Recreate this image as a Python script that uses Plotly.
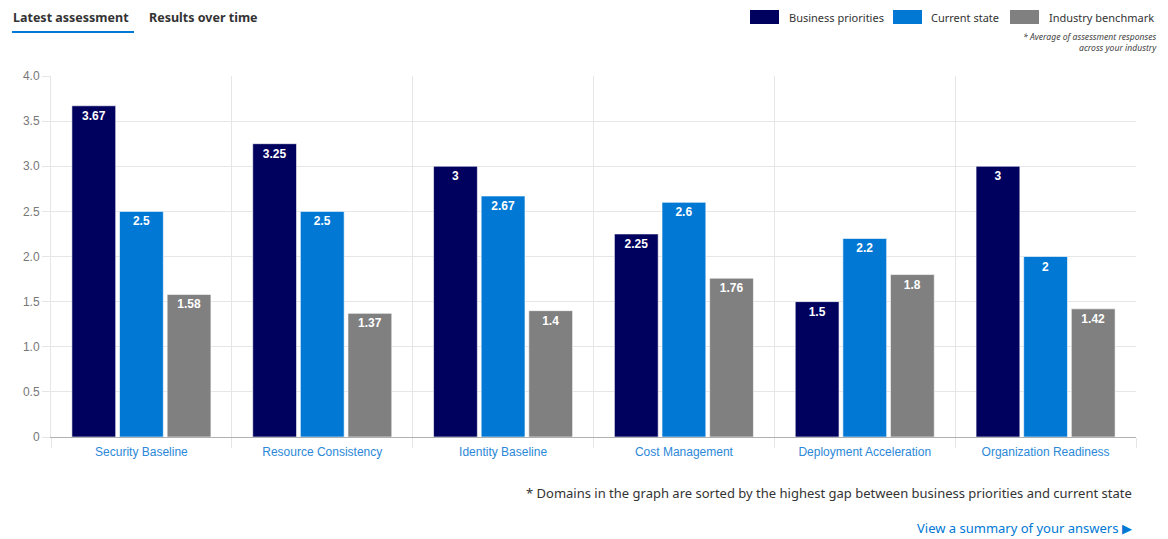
import plotly.graph_objects as go

categories = ["Security Baseline", "Resource Consistency", "Identity Baseline",
              "Cost Management", "Deployment Acceleration", "Organization Readiness"]
business_priorities = [3.67, 3.25, 3, 2.25, 1.5, 3]
current_state = [2.5, 2.5, 2.67, 2.6, 2.2, 2]
industry_benchmark = [1.58, 1.37, 1.4, 1.76, 1.8, 1.42]
series_names = ["Business priorities", "Current state", "Industry benchmark"]
series_colors = ["#00005e", "#0078d4", "#808080"]
y_ticks = [0, 0.5, 1, 1.5, 2, 2.5, 3, 3.5, 4]
y_tick_labels = ["0", "0.5", "1.0", "1.5", "2.0", "2.5", "3.0", "3.5", "4.0"]

W, H = 1168, 539
ML, MR, MT, MB = 51, 32, 76, 102

fig = go.Figure()
for name, vals, col in zip(series_names, [business_priorities, current_state, industry_benchmark], series_colors):
    fig.add_trace(go.Bar(
        x=categories, y=vals, name=name,
        marker=dict(color=col, line=dict(color="rgba(255,255,255,0.6)", width=1)),
        text=[f"<b>{v:g}</b>" for v in vals], textposition="inside", insidetextanchor="end",
        textfont=dict(color="white", size=12, family="Liberation Sans"),
        textangle=0, showlegend=False,
    ))

fig.update_layout(
    width=W, height=H, margin=dict(l=ML, r=MR, t=MT, b=MB),
    paper_bgcolor="white", plot_bgcolor="white",
    barmode="group", bargap=0.21, bargroupgap=0.08,
    font=dict(family="Liberation Sans", color="#333"),
)
fig.update_xaxes(
    type="category", tickson="boundaries", showgrid=True, gridcolor="#e6e6e6",
    ticks="outside", ticklen=10, tickcolor="#e6e6e6",
    showline=True, linecolor="#b0b0b0", linewidth=1,
    ticklabelstandoff=4,
    tickfont=dict(color="#2b88d8", size=12, family="Liberation Sans"),
)
fig.update_yaxes(
    range=[0, 4], tickvals=y_ticks, ticktext=y_tick_labels,
    showgrid=True, gridcolor="#e6e6e6", zeroline=False,
    ticks="outside", ticklen=8, tickcolor="#e6e6e6",
    showline=True, linecolor="#e6e6e6",
    tickfont=dict(color="#777", size=12, family="Liberation Sans"),
)

def px(x):
    return (x - ML) / (W - ML - MR)

def py(y):
    return (H - MB - y) / (H - MT - MB)

# tabs
fig.add_annotation(x=px(11), y=py(17), xref="paper", yref="paper", xanchor="left", yanchor="middle",
                   text="<b>Latest assessment</b>", showarrow=False,
                   font=dict(family="Noto Sans", size=12.5, color="#333"))
fig.add_annotation(x=px(147), y=py(17), xref="paper", yref="paper", xanchor="left", yanchor="middle",
                   text="<b>Results over time</b>", showarrow=False,
                   font=dict(family="Noto Sans", size=12.5, color="#333"))
fig.add_shape(type="rect", xref="paper", yref="paper", x0=px(12), x1=px(134), y0=py(31), y1=py(33),
              fillcolor="#0078d4", line=dict(width=0))

# custom legend
legend_items = [(750, 787), (893, 929), (1010, 1047)]
for (rx, tx), name, col in zip(legend_items, series_names, series_colors):
    fig.add_shape(type="rect", xref="paper", yref="paper", x0=px(rx), x1=px(rx + 29),
                  y0=py(24), y1=py(10), fillcolor=col, line=dict(width=0))
    fig.add_annotation(x=px(tx), y=py(17), xref="paper", yref="paper", xanchor="left", yanchor="middle",
                       text=name, showarrow=False, font=dict(family="Noto Sans", size=11, color="#333"))
fig.add_annotation(x=px(1159), y=py(43), xref="paper", yref="paper", xanchor="right", yanchor="middle",
                   text="<i>* Average of assessment responses<br>across your industry</i>", align="right",
                   showarrow=False, font=dict(family="Noto Sans", size=8.6, color="#444"))

# footnotes
fig.add_annotation(x=px(1134), y=py(493), xref="paper", yref="paper", xanchor="right", yanchor="middle",
                   text="* Domains in the graph are sorted by the highest gap between business priorities and current state",
                   showarrow=False, font=dict(family="Noto Sans", size=13, color="#333"))
fig.add_annotation(x=px(1134), y=py(528), xref="paper", yref="paper", xanchor="right", yanchor="middle",
                   text="View a summary of your answers ▶", showarrow=False,
                   font=dict(family="Noto Sans", size=13, color="#0078d4"))

fig.write_html("out.html")
